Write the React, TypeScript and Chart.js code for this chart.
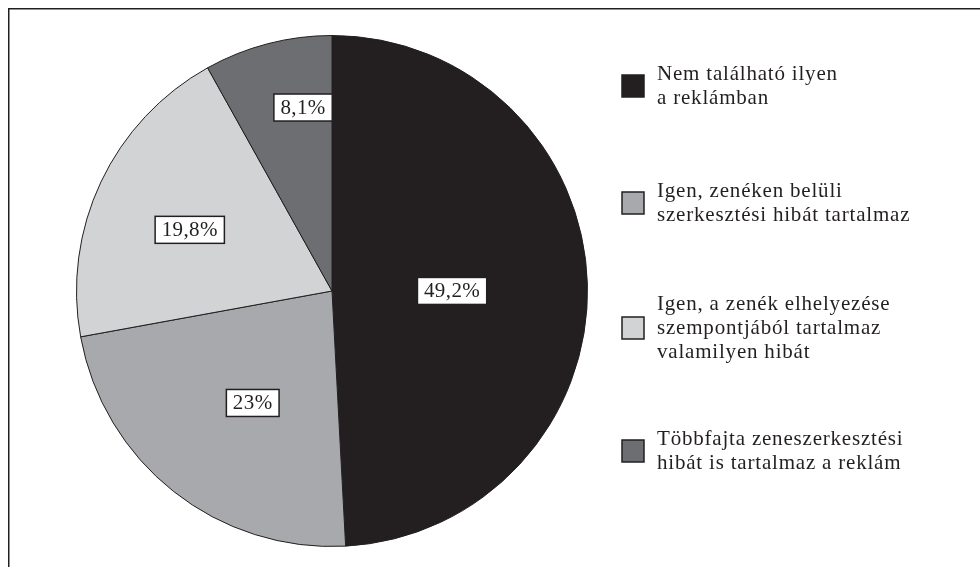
import React, { useEffect, useRef } from "react";
import { Chart, registerables } from "chart.js";

Chart.register(...registerables);

const categories: string[][] = [
  ["Nem található ilyen", "a reklámban"],
  ["Igen, zenéken belüli", "szerkesztési hibát tartalmaz"],
  ["Igen, a zenék elhelyezése", "szempontjából tartalmaz", "valamilyen hibát"],
  ["Többfajta zeneszerkesztési", "hibát is tartalmaz a reklám"],
];
const values: number[] = [49.2, 23, 19.8, 8.1];
const valueLabels: string[] = ["49,2%", "23%", "19,8%", "8,1%"];

const COLORS = ["#231f20", "#a7a9ac", "#d1d3d4", "#6d6e71"];
const INK = "#231f20";
const FONT = '"Liberation Serif", "Times New Roman", serif';

// label placement: fraction of radius, angle tweak in degrees
const LABEL_ADJ = [
  { r: 0.47, da: 1.5 },
  { r: 0.537, da: -3 },
  { r: 0.606, da: -2 },
  { r: 0.727, da: 5.6 },
];
const LEGEND_Y = [86, 203, 328, 451];

const framePlugin = {
  id: "frame",
  beforeDraw(chart: any) {
    const ctx = chart.ctx;
    ctx.save();
    ctx.fillStyle = "#fff";
    ctx.fillRect(0, 0, chart.width, chart.height);
    ctx.strokeStyle = INK;
    ctx.lineWidth = 1.5;
    ctx.beginPath();
    ctx.moveTo(8.75, chart.height + 2);
    ctx.lineTo(8.75, 8.75);
    ctx.lineTo(chart.width + 2, 8.75);
    ctx.stroke();
    ctx.restore();
  },
};

const labelPlugin = {
  id: "boxLabels",
  afterDatasetsDraw(chart: any) {
    const ctx = chart.ctx;
    const meta = chart.getDatasetMeta(0);
    ctx.save();
    ctx.font = `21px ${FONT}`;
    (ctx as any).letterSpacing = "0.4px";
    ctx.textAlign = "center";
    ctx.textBaseline = "middle";
    meta.data.forEach((arc: any, i: number) => {
      const p = arc.getProps(["x", "y", "startAngle", "endAngle", "outerRadius"], true);
      const mid = (p.startAngle + p.endAngle) / 2 + (LABEL_ADJ[i].da * Math.PI) / 180;
      const r = p.outerRadius * LABEL_ADJ[i].r;
      const cx = p.x + Math.cos(mid) * r;
      const cy = p.y + Math.sin(mid) * r;
      const txt = valueLabels[i];
      const w = ctx.measureText(txt).width + 13;
      const h = 27;
      ctx.fillStyle = "#fff";
      ctx.fillRect(cx - w / 2, cy - h / 2, w, h);
      ctx.strokeStyle = INK;
      ctx.lineWidth = 1.5;
      ctx.strokeRect(cx - w / 2, cy - h / 2, w, h);
      ctx.fillStyle = INK;
      ctx.fillText(txt, cx, cy + 1);
    });
    ctx.restore();
  },
};

const legendPlugin = {
  id: "sideLegend",
  afterDraw(chart: any) {
    const ctx = chart.ctx;
    ctx.save();
    ctx.font = `21px ${FONT}`;
    (ctx as any).letterSpacing = "0.8px";
    ctx.textAlign = "left";
    ctx.textBaseline = "alphabetic";
    const lh = 24;
    const sx = 622;
    const size = 22;
    const tx = 657;
    categories.forEach((lines, i) => {
      const cy = LEGEND_Y[i];
      ctx.fillStyle = COLORS[i];
      ctx.fillRect(sx, cy - size / 2, size, size);
      ctx.strokeStyle = INK;
      ctx.lineWidth = 1.5;
      ctx.strokeRect(sx, cy - size / 2, size, size);
      ctx.fillStyle = INK;
      lines.forEach((ln, j) => {
        const by = cy - ((lines.length - 1) / 2) * lh + j * lh + 6;
        ctx.fillText(ln, tx, by);
      });
    });
    ctx.restore();
  },
};

export default function App() {
  const ref = useRef<HTMLCanvasElement>(null);
  useEffect(() => {
    document.body.style.margin = "0";
    const chart = new Chart(ref.current!, {
      type: "pie",
      data: {
        labels: categories.map((l) => l.join(" ")),
        datasets: [
          {
            data: values,
            backgroundColor: COLORS,
            borderColor: INK,
            borderWidth: 1,
          },
        ],
      },
      options: {
        animation: false,
        responsive: false,
        layout: { padding: { left: 76, right: 392, top: 35, bottom: 20 } },
        plugins: {
          legend: { display: false },
          tooltip: { enabled: false },
        },
      },
      plugins: [framePlugin, labelPlugin, legendPlugin],
    });
    return () => chart.destroy();
  }, []);
  return (
    <div style={{ width: 980, height: 567 }}>
      <canvas ref={ref} width={980} height={567} />
    </div>
  );
}
